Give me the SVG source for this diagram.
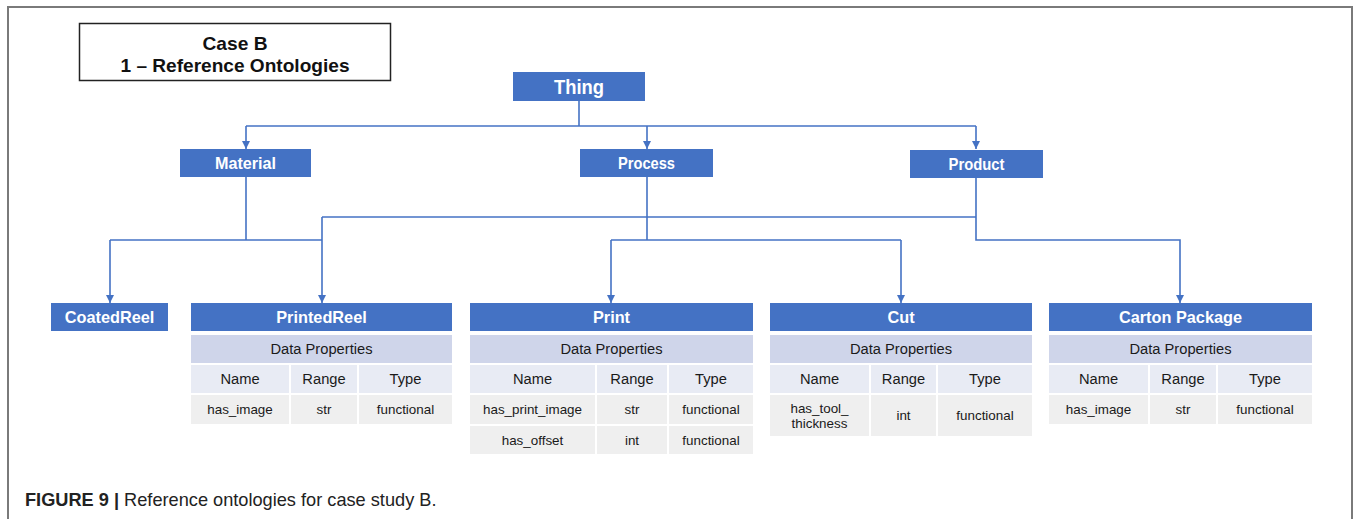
<svg xmlns="http://www.w3.org/2000/svg" width="1356" height="519" viewBox="0 0 1356 519">
  <style>
    .frame { fill: none; stroke: #7a7a7a; stroke-width: 2; }
    .title-box { fill: #ffffff; stroke: #222222; stroke-width: 1.5; }
    .title { font-family: "Liberation Sans", Arial, sans-serif; font-weight: bold; font-size: 19px; fill: #111111; text-anchor: middle; }
    .cls { fill: #4472C4; }
    .cls-lbl { font-family: "Liberation Sans", Arial, sans-serif; font-weight: bold; fill: #ffffff; text-anchor: middle; }
    .leaf { font-size: 16.3px; }
    .dp { fill: #CFD5EA; }
    .hd { fill: #E8EBF4; }
    .row { fill: #EFEFEF; }
    .cell { font-family: "Liberation Sans", Arial, sans-serif; font-size: 14.7px; fill: #1a1a1a; text-anchor: middle; }
    .val { font-family: "Liberation Sans", Arial, sans-serif; font-size: 13.4px; fill: #1a1a1a; text-anchor: middle; }
    .link { fill: none; stroke: #4472C4; stroke-width: 1.6; }
    .caption { font-family: "Liberation Sans", Arial, sans-serif; font-size: 18.2px; fill: #222222; }
  </style>
  <defs>
    <marker id="arrow" viewBox="0 0 10 10" refX="10" refY="5" markerWidth="8" markerHeight="8" markerUnits="userSpaceOnUse" orient="auto">
      <path d="M0,0 L10,5 L0,10 z" fill="#4472C4"/>
    </marker>
  </defs>

  <rect width="1356" height="519" fill="#ffffff"/>
  <path class="frame" d="M8,519 V7 H1352 V519"/>

  <g id="title">
    <rect class="title-box" x="79.5" y="23.5" width="311" height="57"/>
    <text class="title" x="235" y="49.5" textLength="65" lengthAdjust="spacingAndGlyphs">Case B</text>
    <text class="title" x="235" y="71.5" textLength="229" lengthAdjust="spacingAndGlyphs">1 – Reference Ontologies</text>
  </g>

  <!-- class hierarchy links -->
  <g id="connectors">
    <path class="link" d="M579,101 V126"/>
    <path class="link" d="M246,126 H976"/>
    <path class="link" marker-end="url(#arrow)" d="M246,126 V149"/>
    <path class="link" marker-end="url(#arrow)" d="M647,126 V149"/>
    <path class="link" marker-end="url(#arrow)" d="M976,126 V149"/>

    <path class="link" d="M246,177 V240"/>
    <path class="link" d="M110,240 H322"/>
    <path class="link" marker-end="url(#arrow)" d="M110,240 V303"/>
    <path class="link" marker-end="url(#arrow)" d="M322,217 V303"/>

    <path class="link" d="M322,217 H976"/>
    <path class="link" marker-end="url(#arrow)" d="M976,178 V240 H1180 V303"/>

    <path class="link" d="M647,177 V240"/>
    <path class="link" d="M611,240 H901"/>
    <path class="link" marker-end="url(#arrow)" d="M611,240 V303"/>
    <path class="link" marker-end="url(#arrow)" d="M901,240 V303"/>
  </g>

  <g id="thing">
    <rect class="cls" x="513" y="72" width="132" height="29"/>
    <text class="cls-lbl" x="579" y="93.5" font-size="20" textLength="50" lengthAdjust="spacingAndGlyphs">Thing</text>
  </g>
  <g id="material">
    <rect class="cls" x="180" y="149" width="131" height="28"/>
    <text class="cls-lbl" x="245.5" y="169" font-size="17" textLength="61" lengthAdjust="spacingAndGlyphs">Material</text>
  </g>
  <g id="process">
    <rect class="cls" x="580" y="149" width="133" height="28"/>
    <text class="cls-lbl" x="646.5" y="169" font-size="17" textLength="57" lengthAdjust="spacingAndGlyphs">Process</text>
  </g>
  <g id="product">
    <rect class="cls" x="910" y="150" width="133" height="28"/>
    <text class="cls-lbl" x="976.5" y="170" font-size="17" textLength="56" lengthAdjust="spacingAndGlyphs">Product</text>
  </g>

  <g id="coatedreel">
    <rect class="cls" x="51" y="303" width="117" height="28"/>
    <text class="cls-lbl leaf" x="109.5" y="323">CoatedReel</text>
  </g>

  <g id="printedreel">
    <rect class="cls" x="191" y="303" width="261" height="28"/>
    <text class="cls-lbl leaf" x="321.5" y="323">PrintedReel</text>
    <rect class="dp" x="191" y="335" width="261" height="28"/>
    <text class="cell" x="321.5" y="354">Data Properties</text>
    <rect class="hd" x="191" y="365" width="98" height="28"/>
    <rect class="hd" x="291" y="365" width="66" height="28"/>
    <rect class="hd" x="359" y="365" width="93" height="28"/>
    <text class="cell" x="240" y="384">Name</text>
    <text class="cell" x="324" y="384">Range</text>
    <text class="cell" x="405.5" y="384">Type</text>
    <rect class="row" x="191" y="395" width="98" height="29"/>
    <rect class="row" x="291" y="395" width="66" height="29"/>
    <rect class="row" x="359" y="395" width="93" height="29"/>
    <text class="val" x="240" y="414">has_image</text>
    <text class="val" x="324" y="414">str</text>
    <text class="val" x="405.5" y="414">functional</text>
  </g>

  <g id="print">
    <rect class="cls" x="470" y="303" width="283" height="28"/>
    <text class="cls-lbl leaf" x="611.5" y="323">Print</text>
    <rect class="dp" x="470" y="335" width="283" height="28"/>
    <text class="cell" x="611.5" y="354">Data Properties</text>
    <rect class="hd" x="470" y="365" width="125" height="28"/>
    <rect class="hd" x="597" y="365" width="70" height="28"/>
    <rect class="hd" x="669" y="365" width="84" height="28"/>
    <text class="cell" x="532.5" y="384">Name</text>
    <text class="cell" x="632" y="384">Range</text>
    <text class="cell" x="711" y="384">Type</text>
    <rect class="row" x="470" y="395" width="125" height="29"/>
    <rect class="row" x="597" y="395" width="70" height="29"/>
    <rect class="row" x="669" y="395" width="84" height="29"/>
    <text class="val" x="532.5" y="414">has_print_image</text>
    <text class="val" x="632" y="414">str</text>
    <text class="val" x="711" y="414">functional</text>
    <rect class="row" x="470" y="426" width="125" height="28"/>
    <rect class="row" x="597" y="426" width="70" height="28"/>
    <rect class="row" x="669" y="426" width="84" height="28"/>
    <text class="val" x="532.5" y="444.5">has_offset</text>
    <text class="val" x="632" y="444.5">int</text>
    <text class="val" x="711" y="444.5">functional</text>
  </g>

  <g id="cut">
    <rect class="cls" x="770" y="303" width="262" height="28"/>
    <text class="cls-lbl leaf" x="901" y="323">Cut</text>
    <rect class="dp" x="770" y="335" width="262" height="28"/>
    <text class="cell" x="901" y="354">Data Properties</text>
    <rect class="hd" x="770" y="365" width="99" height="28"/>
    <rect class="hd" x="871" y="365" width="65" height="28"/>
    <rect class="hd" x="938" y="365" width="94" height="28"/>
    <text class="cell" x="819.5" y="384">Name</text>
    <text class="cell" x="903.5" y="384">Range</text>
    <text class="cell" x="985" y="384">Type</text>
    <rect class="row" x="770" y="395" width="99" height="41"/>
    <rect class="row" x="871" y="395" width="65" height="41"/>
    <rect class="row" x="938" y="395" width="94" height="41"/>
    <text class="val" x="819.5" y="412.5">has_tool_</text>
    <text class="val" x="819.5" y="428">thickness</text>
    <text class="val" x="903.5" y="420">int</text>
    <text class="val" x="985" y="420">functional</text>
  </g>

  <g id="cartonpackage">
    <rect class="cls" x="1049" y="303" width="263" height="28"/>
    <text class="cls-lbl leaf" x="1180.5" y="323">Carton Package</text>
    <rect class="dp" x="1049" y="335" width="263" height="28"/>
    <text class="cell" x="1180.5" y="354">Data Properties</text>
    <rect class="hd" x="1049" y="365" width="99" height="28"/>
    <rect class="hd" x="1150" y="365" width="66" height="28"/>
    <rect class="hd" x="1218" y="365" width="94" height="28"/>
    <text class="cell" x="1098.5" y="384">Name</text>
    <text class="cell" x="1183" y="384">Range</text>
    <text class="cell" x="1265" y="384">Type</text>
    <rect class="row" x="1049" y="395" width="99" height="29"/>
    <rect class="row" x="1150" y="395" width="66" height="29"/>
    <rect class="row" x="1218" y="395" width="94" height="29"/>
    <text class="val" x="1098.5" y="414">has_image</text>
    <text class="val" x="1183" y="414">str</text>
    <text class="val" x="1265" y="414">functional</text>
  </g>

  <text class="caption" x="25" y="506"><tspan font-weight="bold">FIGURE 9 |</tspan> Reference ontologies for case study B.</text>
</svg>
